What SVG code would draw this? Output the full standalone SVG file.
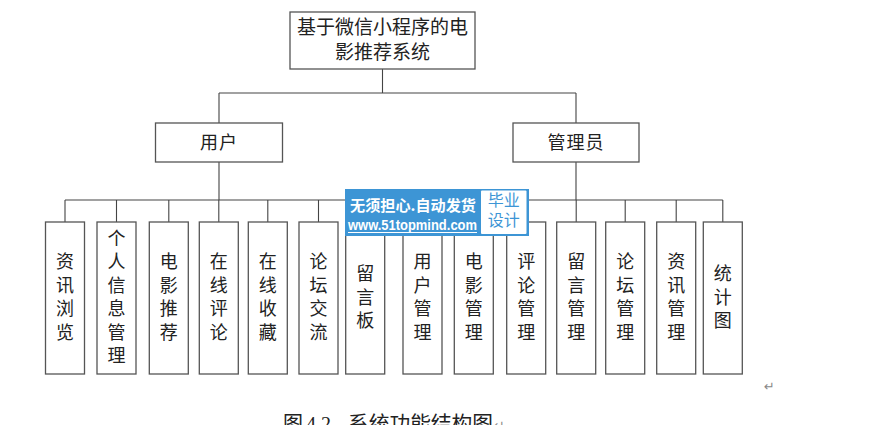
<svg xmlns="http://www.w3.org/2000/svg" width="874" height="425" viewBox="0 0 874 425">
<style>
.box{fill:#fff;stroke:#555;stroke-width:1.3}
.ln{stroke:#444;stroke-width:1.1;fill:none}
.t{font-family:"Noto Sans CJK SC","Noto Sans",sans-serif;font-size:18px;fill:#222;text-anchor:middle}
.tr{font-family:"Noto Sans CJK SC","Noto Sans",sans-serif;font-size:19px;fill:#222;text-anchor:middle}
.cap{font-family:"Liberation Serif","Noto Sans CJK SC",serif;font-size:20px;fill:#222}
.mk{font-family:"DejaVu Sans",sans-serif;font-size:13px;fill:#888}
.wm1{font-family:"Noto Sans CJK SC",sans-serif;font-size:15px;font-weight:bold;fill:#fff}
.wm2{font-family:"Liberation Sans","DejaVu Sans",sans-serif;font-size:14px;font-weight:bold;fill:#fff}
.wm3{font-family:"Noto Sans CJK SC",sans-serif;font-size:16px;fill:#3d95d5;text-anchor:middle}
</style>
<rect width="874" height="425" fill="#fff"/>
<g id="connectors">
<path class="ln" d="M382.5 69V93M219 93H576M219 93V123M576 93V123"/>
<path class="ln" d="M219 162V200M65 200H365.2M65 200V222M116.5 200V222M168.8 200V222M218.8 200V222M267.8 200V222M318.5 200V222M365.2 200V222"/>
<path class="ln" d="M576 162V200M422.5 200H722.8M422.5 200V222M473.8 200V222M526.2 200V222M576.2 200V222M625.2 200V222M676.2 200V222M722.8 200V222"/>
</g>
<g id="root"><rect class="box" x="290" y="12" width="185" height="57"/>
<text class="tr" x="382.5" y="33.5">基于微信小程序的电</text><text class="tr" x="382.5" y="58.5">影推荐系统</text></g>
<g id="user"><rect class="box" x="155.5" y="123" width="127" height="39"/><text class="t" x="219" y="149" letter-spacing="1">用户</text></g>
<g id="admin"><rect class="box" x="513" y="123" width="126" height="39"/><text class="t" x="576" y="149" letter-spacing="1">管理员</text></g>
<g id="n1"><rect class="box" x="45.5" y="222" width="39" height="152"/><text class="t" x="65"><tspan x="65" y="268.3">资</tspan><tspan x="65" dy="23.5">讯</tspan><tspan x="65" dy="23.5">浏</tspan><tspan x="65" dy="23.5">览</tspan></text></g>
<g id="n2"><rect class="box" x="97" y="222" width="39" height="152"/><text class="t" x="116.5"><tspan x="116.5" y="244.8">个</tspan><tspan x="116.5" dy="23.5">人</tspan><tspan x="116.5" dy="23.5">信</tspan><tspan x="116.5" dy="23.5">息</tspan><tspan x="116.5" dy="23.5">管</tspan><tspan x="116.5" dy="23.5">理</tspan></text></g>
<g id="n3"><rect class="box" x="149.3" y="222" width="39" height="152"/><text class="t"><tspan x="168.8" y="268.3">电</tspan><tspan x="168.8" dy="23.5">影</tspan><tspan x="168.8" dy="23.5">推</tspan><tspan x="168.8" dy="23.5">荐</tspan></text></g>
<g id="n4"><rect class="box" x="199.3" y="222" width="39" height="152"/><text class="t"><tspan x="218.8" y="268.3">在</tspan><tspan x="218.8" dy="23.5">线</tspan><tspan x="218.8" dy="23.5">评</tspan><tspan x="218.8" dy="23.5">论</tspan></text></g>
<g id="n5"><rect class="box" x="248.3" y="222" width="39" height="152"/><text class="t"><tspan x="267.8" y="268.3">在</tspan><tspan x="267.8" dy="23.5">线</tspan><tspan x="267.8" dy="23.5">收</tspan><tspan x="267.8" dy="23.5">藏</tspan></text></g>
<g id="n6"><rect class="box" x="299" y="222" width="39" height="152"/><text class="t"><tspan x="318.5" y="268.3">论</tspan><tspan x="318.5" dy="23.5">坛</tspan><tspan x="318.5" dy="23.5">交</tspan><tspan x="318.5" dy="23.5">流</tspan></text></g>
<g id="n7"><rect class="box" x="345.7" y="222" width="39" height="152"/><text class="t"><tspan x="365.2" y="280">留</tspan><tspan x="365.2" dy="23.5">言</tspan><tspan x="365.2" dy="23.5">板</tspan></text></g>
<g id="n8"><rect class="box" x="403" y="222" width="39" height="152"/><text class="t"><tspan x="422.5" y="268.3">用</tspan><tspan x="422.5" dy="23.5">户</tspan><tspan x="422.5" dy="23.5">管</tspan><tspan x="422.5" dy="23.5">理</tspan></text></g>
<g id="n9"><rect class="box" x="454.3" y="222" width="39" height="152"/><text class="t"><tspan x="473.8" y="268.3">电</tspan><tspan x="473.8" dy="23.5">影</tspan><tspan x="473.8" dy="23.5">管</tspan><tspan x="473.8" dy="23.5">理</tspan></text></g>
<g id="n10"><rect class="box" x="506.7" y="222" width="39" height="152"/><text class="t"><tspan x="526.2" y="268.3">评</tspan><tspan x="526.2" dy="23.5">论</tspan><tspan x="526.2" dy="23.5">管</tspan><tspan x="526.2" dy="23.5">理</tspan></text></g>
<g id="n11"><rect class="box" x="556.7" y="222" width="39" height="152"/><text class="t"><tspan x="576.2" y="268.3">留</tspan><tspan x="576.2" dy="23.5">言</tspan><tspan x="576.2" dy="23.5">管</tspan><tspan x="576.2" dy="23.5">理</tspan></text></g>
<g id="n12"><rect class="box" x="605.7" y="222" width="39" height="152"/><text class="t"><tspan x="625.2" y="268.3">论</tspan><tspan x="625.2" dy="23.5">坛</tspan><tspan x="625.2" dy="23.5">管</tspan><tspan x="625.2" dy="23.5">理</tspan></text></g>
<g id="n13"><rect class="box" x="656.7" y="222" width="39" height="152"/><text class="t"><tspan x="676.2" y="268.3">资</tspan><tspan x="676.2" dy="23.5">讯</tspan><tspan x="676.2" dy="23.5">管</tspan><tspan x="676.2" dy="23.5">理</tspan></text></g>
<g id="n14"><rect class="box" x="703.3" y="222" width="39" height="152"/><text class="t"><tspan x="722.8" y="280">统</tspan><tspan x="722.8" dy="23.5">计</tspan><tspan x="722.8" dy="23.5">图</tspan></text></g>
<g id="watermark">
<rect x="345" y="189" width="184" height="47" fill="#3d95d5"/>
<rect x="481" y="190.5" width="45.5" height="43.5" fill="#fff" rx="1"/>
<text class="wm1" x="350" y="211" textLength="126" lengthAdjust="spacingAndGlyphs">无须担心.自动发货</text>
<text class="wm2" x="348" y="229.5" textLength="129" lengthAdjust="spacingAndGlyphs">www.51topmind.com</text>
<line x1="348" y1="232.5" x2="477" y2="232.5" stroke="#fff" stroke-width="1"/>
<text class="wm3"><tspan x="503.7" y="205.5">毕业</tspan><tspan x="503.7" y="226">设计</tspan></text>
</g>
<text class="mk" x="764" y="391">↵</text>
<g id="caption">
<text class="cap" x="283" y="431">图</text>
<text class="cap" x="306" y="431">4.2</text>
<text class="cap" x="348" y="431" textLength="145" lengthAdjust="spacingAndGlyphs">系统功能结构图</text>
<text class="mk" x="494" y="430" font-size="14">↵</text>
</g>
</svg>
